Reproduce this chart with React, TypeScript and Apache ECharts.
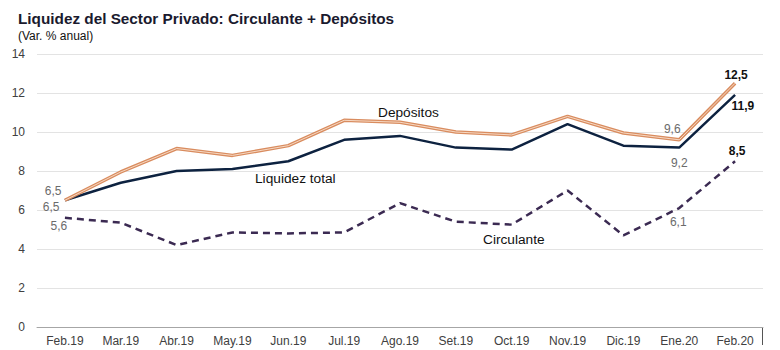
import React, { useEffect, useRef } from "react";
import * as echarts from "echarts";

const categories = ["Feb.19", "Mar.19", "Abr.19", "May.19", "Jun.19", "Jul.19", "Ago.19", "Set.19", "Oct.19", "Nov.19", "Dic.19", "Ene.20", "Feb.20"];
const depositos = [6.5, 7.95, 9.15, 8.8, 9.3, 10.6, 10.5, 10.0, 9.85, 10.8, 9.95, 9.6, 12.5];
const liquidez = [6.5, 7.4, 8.0, 8.1, 8.5, 9.6, 9.8, 9.2, 9.1, 10.4, 9.3, 9.2, 11.9];
const circulante = [5.6, 5.35, 4.2, 4.85, 4.8, 4.85, 6.35, 5.4, 5.25, 7.0, 4.7, 6.1, 8.5];
const yTicks = [0, 2, 4, 6, 8, 10, 12, 14];

const fmt = (v: number) => v.toFixed(1).replace(".", ",");

const grey = { show: true, color: "#6b6b6b", fontSize: 12, fontFamily: "Liberation Sans" };
const bold = { show: true, color: "#111", fontSize: 12, fontWeight: "bold" as const, fontFamily: "Liberation Sans" };

function labeled(values: number[], labels: Record<number, any>) {
  return values.map((v, i) =>
    labels[i] ? { value: v, label: { ...labels[i], formatter: () => fmt(v) } } : { value: v }
  );
}

const hiddenSymbol = { symbol: "circle", symbolSize: 1, showSymbol: true, itemStyle: { color: "rgba(0,0,0,0)" } };

export default function App() {
  const ref = useRef<HTMLDivElement>(null);
  useEffect(() => {
    document.body.style.margin = "0";
    const chart = echarts.init(ref.current!, null, { renderer: "svg" });
    const last = categories.length - 1;
    chart.setOption({
      animation: false,
      textStyle: { fontFamily: "Liberation Sans" },
      title: [
        { text: "Liquidez del Sector Privado: Circulante + Depósitos", left: 13, top: 6, textStyle: { fontSize: 15.3, fontWeight: "bold", color: "#1a1a2e", fontFamily: "Liberation Sans" } },
        { text: "(Var. % anual)", left: 13, top: 25, textStyle: { fontSize: 12, fontWeight: "normal", color: "#111", fontFamily: "Liberation Sans" } },
      ],
      grid: { left: 37, right: 17, top: 54, bottom: 23 },
      xAxis: {
        type: "category",
        data: categories,
        boundaryGap: true,
        axisLine: { lineStyle: { color: "#a6a6a6", width: 1 } },
        axisTick: { show: false },
        axisLabel: { color: "#404040", fontSize: 12, margin: 8, interval: 0 },
      },
      yAxis: {
        type: "value",
        min: 0,
        max: 14,
        interval: 2,
        axisLine: { show: false },
        axisTick: { show: false },
        axisLabel: { color: "#404040", fontSize: 12, margin: 12, formatter: (v: number) => (yTicks.includes(v) ? String(v) : "") },
        splitLine: { lineStyle: { color: "#e3e3e3", width: 1 } },
      },
      series: [
        {
          type: "line",
          name: "Circulante",
          data: labeled(circulante, {
            0: { ...grey, position: "bottom", offset: [-6, -3] },
            [last - 1]: { ...grey, position: "bottom", offset: [-1, 2] },
            [last]: { ...bold, position: "top", offset: [2, 1] },
          }),
          ...hiddenSymbol,
          lineStyle: { color: "#3b2a52", width: 2.5, type: [7, 5] },
          z: 2,
        },
        {
          type: "line",
          name: "Liquidez total",
          data: labeled(liquidez, {
            0: { ...grey, position: "left", offset: [0, 7] },
            [last - 1]: { ...grey, position: "bottom", offset: [0, 4] },
            [last]: { ...bold, position: "right", offset: [-9, 11] },
          }),
          ...hiddenSymbol,
          lineStyle: { color: "#0d2240", width: 2.5 },
          z: 3,
        },
        {
          type: "line",
          name: "Depósitos",
          data: labeled(depositos, {
            0: { ...grey, position: "left", offset: [2, -9] },
            [last - 1]: { ...grey, position: "top", offset: [-7, 1] },
            [last]: { ...bold, position: "top", offset: [1, 3] },
          }),
          ...hiddenSymbol,
          lineStyle: { color: "#d98c5f", width: 3.5 },
          z: 4,
        },
        {
          type: "line",
          name: "Depósitos-inner",
          data: depositos,
          symbol: "none",
          silent: true,
          lineStyle: { color: "#f6d9c4", width: 1 },
          z: 5,
        },
      ],
      graphic: [
        { type: "text", left: 378, top: 105, style: { text: "Depósitos", fill: "#111", fontSize: 13.7, fontFamily: "Liberation Sans" } },
        { type: "text", left: 255, top: 171, style: { text: "Liquidez total", fill: "#111", fontSize: 13.7, fontFamily: "Liberation Sans" } },
        { type: "text", left: 483, top: 232, style: { text: "Circulante", fill: "#111", fontSize: 13.7, fontFamily: "Liberation Sans" } },
        { type: "line", shape: { x1: 762.5, y1: 327, x2: 762.5, y2: 345 }, style: { stroke: "#555", lineWidth: 1 } },
      ],
    });
    return () => chart.dispose();
  }, []);
  return <div ref={ref} style={{ width: 780, height: 350 }} />;
}
